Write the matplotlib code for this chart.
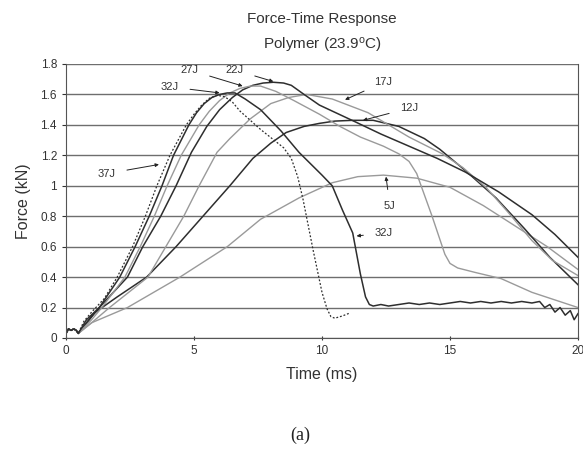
import numpy as np
import matplotlib
matplotlib.use("Agg")
import matplotlib.pyplot as plt

plt.rcParams['font.family'] = ['Liberation Sans', 'DejaVu Sans']
plt.rcParams['mathtext.default'] = 'regular'

# curve data (time in ms, force in kN)
t_37 = [0, 0.1, 0.2, 0.3, 0.4, 0.48, 0.7, 1.0, 1.5, 2.0, 2.6, 3.1, 3.55, 4.06, 4.7, 5.0, 5.3, 5.6, 5.9, 6.2, 6.5,
        6.8, 7.6, 8.5, 8.8, 9.05, 9.26, 9.65, 10.0, 10.2, 10.35, 10.5, 10.8, 11.1]
f_37 = [0.03, 0.06, 0.05, 0.06, 0.05, 0.03, 0.11, 0.17, 0.26, 0.40, 0.60, 0.80, 1.00, 1.20, 1.40, 1.47, 1.53, 1.575, 1.595, 1.585, 1.55,
        1.49, 1.37, 1.25, 1.18, 1.06, 0.91, 0.58, 0.30, 0.19, 0.14, 0.13, 0.145, 0.165]

t_32 = [0, 0.1, 0.2, 0.3, 0.4, 0.48, 0.8, 1.3, 2.1, 2.7, 3.25, 3.75, 4.2, 4.8, 5.1, 5.4, 5.7, 6.0, 6.3, 6.6, 7.0, 7.6, 8.4,
        9.1, 10.0, 10.4, 10.8, 11.2, 11.5, 11.7, 11.85, 12.0,
        12.3, 12.6, 13.0, 13.4, 13.8, 14.2, 14.6, 15.0, 15.4, 15.8, 16.2, 16.6, 17.0, 17.4, 17.8, 18.2,
        18.5, 18.7, 18.9, 19.1, 19.3, 19.5, 19.7, 19.85, 20.0]
f_32 = [0.03, 0.06, 0.05, 0.06, 0.05, 0.03, 0.12, 0.20, 0.40, 0.60, 0.80, 1.00, 1.20, 1.40, 1.48, 1.54, 1.58, 1.60, 1.61, 1.61, 1.57, 1.50, 1.36,
        1.22, 1.07, 1.00, 0.84, 0.69, 0.42, 0.27, 0.22, 0.21,
        0.22, 0.21, 0.22, 0.23, 0.22, 0.23, 0.22, 0.23, 0.24, 0.23, 0.24, 0.23, 0.24, 0.23, 0.24, 0.23,
        0.24, 0.20, 0.22, 0.17, 0.20, 0.15, 0.18, 0.12, 0.16]

t_27 = [0, 0.1, 0.2, 0.3, 0.4, 0.48, 1.0, 1.4, 2.3, 2.9, 3.45, 3.95, 4.5, 5.2, 5.6, 6.0, 6.4, 6.8, 7.2, 7.6, 8.2, 8.9,
        9.9, 10.7, 11.5, 12.4, 13.0, 13.4, 13.7, 14.3, 14.8, 15.0, 15.3, 16.0, 17.0, 18.2, 20.0]
f_27 = [0.03, 0.06, 0.05, 0.06, 0.05, 0.03, 0.12, 0.20, 0.40, 0.60, 0.80, 1.00, 1.20, 1.40, 1.49, 1.56, 1.61, 1.64, 1.655, 1.655, 1.62, 1.56,
        1.47, 1.39, 1.32, 1.26, 1.21, 1.16, 1.08, 0.80, 0.55, 0.49, 0.46, 0.43, 0.39, 0.30, 0.20]

t_22 = [0, 0.1, 0.2, 0.3, 0.4, 0.48, 1.3, 2.4, 3.0, 3.7, 4.3, 4.9, 5.5, 6.0, 6.5, 6.9, 7.3, 7.7, 8.1, 8.5, 8.8, 9.3, 9.9,
        11.3, 12.3, 13.4, 14.5, 15.6, 16.9, 18.2, 19.1, 20.0]
f_22 = [0.03, 0.06, 0.05, 0.06, 0.05, 0.03, 0.20, 0.40, 0.60, 0.80, 1.00, 1.22, 1.39, 1.50, 1.58, 1.63, 1.66, 1.675, 1.68, 1.675, 1.66, 1.60, 1.53,
        1.42, 1.34, 1.26, 1.18, 1.09, 0.96, 0.81, 0.68, 0.53]

t_17 = [0, 0.1, 0.2, 0.3, 0.4, 0.48, 1.0, 1.7, 3.2, 3.9, 4.6, 5.2, 5.9, 6.4, 7.2, 8.0, 8.7, 9.4, 10.4,
        11.8, 13.4, 14.7, 15.5, 16.4, 17.3, 18.2, 19.0, 20.0]
f_17 = [0.03, 0.06, 0.05, 0.06, 0.05, 0.03, 0.10, 0.20, 0.40, 0.60, 0.80, 1.00, 1.22, 1.31, 1.44, 1.54, 1.58, 1.60, 1.57,
        1.48, 1.32, 1.21, 1.12, 0.99, 0.82, 0.64, 0.51, 0.41]

t_12 = [0, 0.1, 0.2, 0.3, 0.4, 0.48, 1.07, 2.0, 3.15, 4.3, 5.35, 6.4, 7.3, 8.0, 8.6, 9.3, 9.9, 10.5, 11.2, 12.0, 13.0,
        14.0, 14.6, 15.6, 16.8, 17.9, 18.9, 20.0]
f_12 = [0.03, 0.06, 0.05, 0.06, 0.05, 0.03, 0.16, 0.27, 0.40, 0.60, 0.80, 1.00, 1.18, 1.28, 1.35, 1.39, 1.41, 1.425, 1.43, 1.43, 1.39,
        1.31, 1.24, 1.10, 0.92, 0.72, 0.53, 0.35]

t_5 = [0, 0.1, 0.2, 0.3, 0.4, 0.48, 1.0, 2.4, 4.45, 6.3, 7.6, 9.1, 10.4, 11.4, 12.4, 13.7, 15.0, 16.3, 17.6,
       18.8, 20.0]
f_5 = [0.03, 0.06, 0.05, 0.06, 0.05, 0.03, 0.10, 0.20, 0.40, 0.60, 0.78, 0.92, 1.02, 1.06, 1.07, 1.05, 0.99, 0.87, 0.73,
       0.60, 0.45]

# label text, text position, arrow tip
labels = ['37J', '32J', '27J', '22J', '17J', '12J', '5J', '32J']
label_xy = [(1.6, 1.08), (4.06, 1.65), (4.84, 1.76), (6.6, 1.76), (12.4, 1.68), (13.4, 1.51), (12.65, 0.87), (12.4, 0.69)]
tip_xy = [(3.63, 1.14), (6.0, 1.61), (6.9, 1.655), (8.1, 1.685), (10.9, 1.565), (11.6, 1.43), (12.5, 1.06), (11.35, 0.67)]

dark = '#2e2e2e'
light = '#9a9a9a'

fig = plt.figure(figsize=(5.83, 4.53), dpi=100)
ax = fig.add_axes([66 / 583, 115 / 453, 512 / 583, 274 / 453])

ax.plot(t_5, f_5, color=light, lw=1.0)
ax.plot(t_12, f_12, color=dark, lw=1.1)
ax.plot(t_17, f_17, color=light, lw=1.0)
ax.plot(t_22, f_22, color=dark, lw=1.1)
ax.plot(t_27, f_27, color=light, lw=1.0)
ax.plot(t_32, f_32, color=dark, lw=1.1)
ax.plot(t_37, f_37, color=dark, lw=0.9, ls=(0, (1.5, 1.5)))

for lab, txy, pxy in zip(labels, label_xy, tip_xy):
    ax.annotate(lab, xy=pxy, xytext=txy, fontsize=8, color='#333333',
                ha='center', va='center',
                arrowprops=dict(arrowstyle='-|>', color='#222222', lw=0.7,
                                mutation_scale=5, shrinkA=6, shrinkB=0))

ax.set_xlim(0, 20)
ax.set_ylim(0, 1.8)
ax.set_xticks([0, 5, 10, 15, 20])
ax.set_yticks(np.arange(0, 1.81, 0.2))
ax.set_yticklabels(['0', '0.2', '0.4', '0.6', '0.8', '1', '1.2', '1.4', '1.6', '1.8'])
ax.grid(axis='y', color='#6e6e6e', lw=1.0)
ax.set_axisbelow(True)
for s in ['left', 'bottom', 'right']:
    ax.spines[s].set_color('#555555')
ax.spines['top'].set_visible(False)
ax.tick_params(axis='both', labelsize=8.5, colors='#333333', length=3, width=0.8)
ax.tick_params(axis='x', direction='inout')

ax.set_xlabel('Time (ms)', fontsize=11.5, color='#333333', labelpad=7)
ax.set_ylabel('Force (kN)', fontsize=11.5, color='#333333', labelpad=7)

fig.text(322 / 583, 1 - 19 / 453, 'Force-Time Response', ha='center', va='center',
         fontsize=11, color='#333333')
fig.text(322 / 583, 1 - 45 / 453, 'Polymer (23.9$^{o}$C)', ha='center', va='center',
         fontsize=11, color='#333333')
fig.text(300 / 583, 1 - 435 / 453, '(a)', ha='center', va='center',
         fontsize=13, family='Liberation Serif', color='#222222')

fig.savefig('out.png', dpi=100)
